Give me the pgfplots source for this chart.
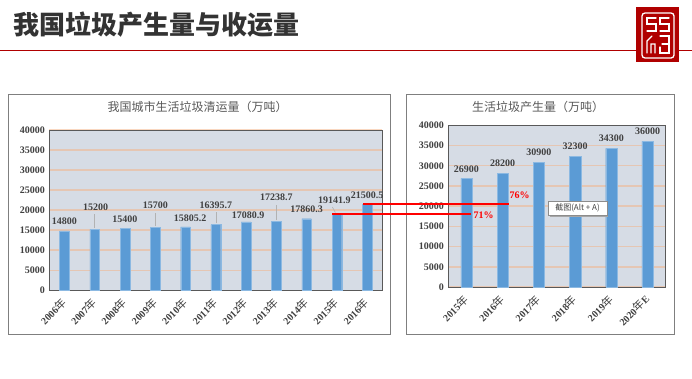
\documentclass[border=0pt]{standalone}
\usepackage{pgfplots}
\pgfplotsset{compat=1.18}
\usepackage{fontspec}
\setmainfont{Liberation Serif}
\newfontfamily\cjk{Noto Sans CJK SC}
\newcommand{\nian}{{\cjk\mdseries\fontsize{11}{11}\selectfont 年}}
\definecolor{tx}{HTML}{404040}
\definecolor{ttl}{HTML}{595959}
\definecolor{barc}{HTML}{5B9BD5}
\definecolor{plotbg}{HTML}{D6DCE5}
\definecolor{gridc}{HTML}{F4B183}
\definecolor{framec}{HTML}{7F7F7F}
\definecolor{brand}{HTML}{B00000}
\definecolor{linered}{HTML}{FF0000}
\pgfplotsset{common/.style={
  scale only axis, anchor=north west,
  ymin=0,ymax=40000,ytick={0,5000,...,40000},
  scaled y ticks=false,
  /pgf/number format/assume math mode=true,
  /pgf/number format/fixed,/pgf/number format/1000 sep={},
  axis background/.style={fill=plotbg},
  axis line style={draw=ttl,line width=0.9pt},
  tick style={draw=none},
  ymajorgrids, y grid style={draw=gridc,line width=1.5pt,opacity=0.5},
  ticklabel style={font=\fontsize{10}{12}\selectfont\bfseries,text=tx},
  yticklabel style={xshift=-1pt},
  xtick=data,
  xticklabel style={xshift=-4pt,yshift=-5pt,rotate=45,anchor=north east,inner sep=1pt},
  clip=false,
}}
\newcommand{\lab}[5]{\node[font=\fontsize{10}{12}\selectfont\bfseries,text=tx,inner sep=0pt,xshift=#4pt,yshift=#5pt] at (axis cs:#1,#2) {#3};}
\begin{document}
\begin{tikzpicture}[x=1pt,y=-1pt]
\fill[white] (0,0) rectangle (692,378);
\fill[brand] (0,49.8) rectangle (692,51.2);
\node[anchor=west,inner sep=0pt,font=\cjk\bfseries\fontsize{26}{28}\selectfont,text=black!80] at (13,25) {我国垃圾产生量与收运量};
\draw[draw=framec,fill=white,line width=0.9pt] (8,94) rectangle (390.5,334.3);
\draw[draw=framec,fill=white,line width=0.9pt] (406,94) rectangle (674.7,334.3);
\node[font=\cjk\fontsize{12}{14}\selectfont,text=ttl,inner sep=0pt] at (197.5,107) {我国城市生活垃圾清运量（万吨）};
\node[font=\cjk\fontsize{12}{14}\selectfont,text=ttl,inner sep=0pt] at (538,107) {生活垃圾产生量（万吨）};
\begin{axis}[common,at={(49.3pt,-130pt)},width=333pt,height=160.3pt,
  xmin=-0.5,xmax=10.5,
  xticklabels={2006\nian,2007\nian,2008\nian,2009\nian,2010\nian,2011\nian,2012\nian,2013\nian,2014\nian,2015\nian,2016\nian}]
\addplot[ybar,bar width=9.7pt,bar shift=0pt,fill=barc,draw=barc!70,line width=0.3pt] coordinates {(0,14800)(1,15200)(2,15400)(3,15700)(4,15805.2)(5,16395.7)(6,17080.9)(7,17238.7)(8,17860.3)(9,19141.9)(10,21500.5)};
\addplot[draw=black!30,line width=0.6pt,forget plot] coordinates {(1,15500)(1,19040)};
\addplot[draw=black!30,line width=0.6pt,forget plot] coordinates {(3,16000)(3,19300)};
\addplot[draw=black!30,line width=0.6pt,forget plot] coordinates {(5,16700)(5,19500)};
\addplot[draw=black!30,line width=0.6pt,forget plot] coordinates {(7,17500)(7,21300)};
\addplot[draw=black!30,line width=0.6pt,forget plot] coordinates {(8.95,19400)(8.85,20800)};
\lab{0}{14800}{14800}{0}{9.3}
\lab{1}{15200}{15200}{1}{22}
\lab{2}{15400}{15400}{0}{9.3}
\lab{3}{15700}{15700}{0}{22}
\lab{4}{15805.2}{15805.2}{4.5}{8.3}
\lab{5}{16395.7}{16395.7}{0}{19.3}
\lab{6}{17080.9}{17080.9}{2}{6.8}
\lab{7}{17238.7}{17238.7}{0}{23.5}
\lab{8}{17860.3}{17860.3}{0}{9.4}
\lab{9}{19141.9}{19141.9}{-2.6}{13.6}
\lab{10}{21500.5}{21500.5}{0}{9}
\end{axis}
\begin{axis}[common,at={(448.3pt,-125.3pt)},width=217.4pt,height=161.7pt,
  xmin=-0.5,xmax=5.5,
  xticklabels={2015\nian,2016\nian,2017\nian,2018\nian,2019\nian,2020\nian E}]
\addplot[ybar,bar width=11.3pt,bar shift=0pt,fill=barc,draw=barc!70,line width=0.3pt] coordinates {(0,26900)(1,28200)(2,30900)(3,32300)(4,34300)(5,36000)};
\lab{0}{26900}{26900}{0}{9}
\lab{1}{28200}{28200}{0}{9.5}
\lab{2}{30900}{30900}{0}{9.7}
\lab{3}{32300}{32300}{0}{10}
\lab{4}{34300}{34300}{0}{10}
\lab{5}{36000}{36000}{0}{10.5}
\end{axis}
\fill[linered] (363,203.2) rectangle (509,204.9);
\fill[linered] (332,213.2) rectangle (471,214.9);
\node[font=\fontsize{10}{12}\selectfont\bfseries,text=linered,inner sep=0pt] at (519.5,195.5) {76\%};
\node[font=\fontsize{10}{12}\selectfont\bfseries,text=linered,inner sep=0pt] at (483.5,215) {71\%};
\fill[black!35] (549.5,202.5) rectangle (608,216.5);
\draw[draw=black!45,fill=white,line width=0.5pt] (548,201) rectangle (607,215);
\node[font=\cjk\fontsize{8}{10}\selectfont,text=tx,inner sep=0pt] at (577.5,208) {截图(Alt + A)};
% logo
\fill[brand] (636,7) rectangle (679,62);
\begin{scope}[draw=white,line width=1.3pt,line cap=round]
\draw[rounded corners=3pt] (642,13) rectangle (674,58);
\draw (656,18)--(647,18)--(647,24)--(656,24)--(656,31)--(647,31);
\draw (669,18)--(660,18)--(660,24)--(669,24)--(669,31)--(660,31);
\draw (647,53)--(647,41)--(652,36)(651,53)--(651,44)--(655,44)--(655,53);
\draw (660,36)--(669,36)--(669,44)--(662,44)(669,44)--(669,53)--(660,53)--(660,47);
\end{scope}
\end{tikzpicture}
\end{document}
